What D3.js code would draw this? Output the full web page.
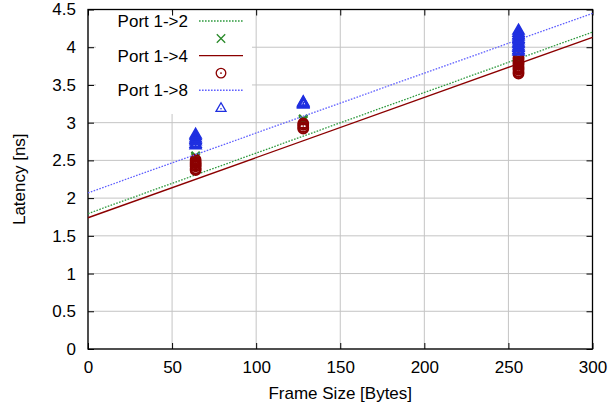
<!DOCTYPE html>
<html><head><meta charset="utf-8">
<script src="https://cdn.jsdelivr.net/npm/d3@7"></script>
<style>html,body{margin:0;padding:0;background:#fff;} text{font-family:"Liberation Sans",Arial,sans-serif;}</style>
</head><body><svg id="c" width="609" height="407"></svg>
<script>
const seriesNames = ["Port 1->2", "Port 1->4", "Port 1->8"];
const frameSizes = [64, 128, 256];
const port12 = [[2.54, 2.56], [3.03, 3.05], [3.82, 3.84]];
const port14 = [[2.37, 2.39, 2.42, 2.44, 2.46, 2.48, 2.51],
                [2.92, 2.94, 2.97, 2.99],
                [3.65, 3.67, 3.70, 3.72, 3.74, 3.77, 3.79, 3.81, 3.84, 3.86]];
const port18 = [[2.71, 2.73, 2.76, 2.78, 2.80, 2.83, 2.85],
                [3.25, 3.26, 3.27, 3.28],
                [3.95, 3.97, 4.00, 4.02, 4.05, 4.07, 4.10, 4.12, 4.15, 4.17, 4.20, 4.23]];
const fitIntercept = [1.795, 1.74, 2.07];
const fitSlope = [0.00802, 0.00797, 0.00793];
const xTicks = [0, 50, 100, 150, 200, 250, 300];
const yTicks = [0, 0.5, 1, 1.5, 2, 2.5, 3, 3.5, 4, 4.5];
const colors = ["#2a8a2a", "#8b0000", "#1f2fe0"];
const lineColors = ["#2f9a3f", "#8b0000", "#6060ff"];

const svg = d3.select("#c");
const L = 88, R = 592.5, T = 9.5, B = 349;
const x = d3.scaleLinear().domain([0, 300]).range([L, R]);
const y = d3.scaleLinear().domain([0, 4.5]).range([B, T]);

// grid
const g = svg.append("g");
g.selectAll(".gx").data(xTicks).enter().append("line")
  .attr("x1", d => x(d)).attr("x2", d => x(d)).attr("y1", T).attr("y2", B)
  .attr("stroke", "#c4c4c4").attr("stroke-width", 1);
g.selectAll(".gy").data(yTicks).enter().append("line")
  .attr("x1", L).attr("x2", R).attr("y1", d => y(d)).attr("y2", d => y(d))
  .attr("stroke", "#c4c4c4").attr("stroke-width", 1);

// legend background
const legX = 96, legY = 12, legW = 156, legH = 102;
svg.append("rect").attr("x", legX).attr("y", legY).attr("width", legW).attr("height", legH).attr("fill", "#fff");

// axes with d3
const xAxis = d3.axisBottom(x).tickValues(xTicks).tickSize(-6).tickPadding(12).tickFormat(d3.format("d"));
const yAxis = d3.axisLeft(y).tickValues(yTicks).tickSize(-6).tickPadding(12).tickFormat(d => d3.format("")(d));
const gx = svg.append("g").attr("transform", `translate(0,${B})`).call(xAxis);
const gy = svg.append("g").attr("transform", `translate(${L},0)`).call(yAxis);
const gx2 = svg.append("g").attr("transform", `translate(0,${T})`).call(d3.axisTop(x).tickValues(xTicks).tickSize(-6).tickFormat(""));
const gy2 = svg.append("g").attr("transform", `translate(${R},0)`).call(d3.axisRight(y).tickValues(yTicks).tickSize(-6).tickFormat(""));
[gx, gy, gx2, gy2].forEach(a => { a.select(".domain").remove(); a.selectAll("line").attr("stroke", "#000"); });
gx.selectAll("text").attr("font-size", 17).attr("fill", "#000").attr("dy", "0.71em");
gy.selectAll("text").attr("font-size", 17).attr("fill", "#000");

svg.append("rect").attr("x", L).attr("y", T).attr("width", R - L).attr("height", B - T)
  .attr("fill", "none").attr("stroke", "#000").attr("stroke-width", 1.3);

// titles
svg.append("text").attr("x", (L + R) / 2).attr("y", 399).attr("text-anchor", "middle")
  .attr("font-size", 17).attr("fill", "#000").text("Frame Size [Bytes]");
svg.append("text").attr("transform", `translate(25,${(T + B) / 2}) rotate(-90)`).attr("text-anchor", "middle")
  .attr("font-size", 17).attr("fill", "#000").text("Latency [ns]");

// markers
function drawMarker(sel, kind, cx, cy, col, sz, sw) {
  if (kind === 0) {
    const s = sz;
    sel.append("path").attr("d", `M${cx - s},${cy - s}L${cx + s},${cy + s}M${cx - s},${cy + s}L${cx + s},${cy - s}`)
      .attr("stroke", col).attr("stroke-width", sw).attr("fill", "none");
  } else if (kind === 1) {
    sel.append("circle").attr("cx", cx).attr("cy", cy).attr("r", sz + 0.6)
      .attr("stroke", col).attr("stroke-width", sw).attr("fill", "none");
    sel.append("circle").attr("cx", cx).attr("cy", cy).attr("r", 0.9).attr("fill", col);
  } else {
    const s = sz + 0.8;
    sel.append("path").attr("d", `M${cx},${cy - s}L${cx + s},${cy + s * 0.75}L${cx - s},${cy + s * 0.75}Z`)
      .attr("stroke", col).attr("stroke-width", sw).attr("fill", "none");
    sel.append("circle").attr("cx", cx).attr("cy", cy + 1).attr("r", 0.8).attr("fill", col);
  }
}

const allData = [port12, port14, port18];
const dashes = ["1.6,1.4", null, "1.6,1.4"];
const plot = svg.append("g");
allData.forEach((series, i) => {
  plot.append("line")
    .attr("x1", x(0)).attr("y1", y(fitIntercept[i]))
    .attr("x2", x(300)).attr("y2", y(fitIntercept[i] + fitSlope[i] * 300))
    .attr("stroke", lineColors[i]).attr("stroke-width", i === 1 ? 1.4 : 1.3)
    .attr("stroke-dasharray", dashes[i]);
  series.forEach((vals, j) => {
    vals.forEach(v => drawMarker(plot, i, x(frameSizes[j]), y(v), colors[i], 4.2, 2.2));
  });
});

// legend
const leg = svg.append("g");
seriesNames.forEach((name, i) => {
  const ly = 21 + i * 34.6;
  leg.append("text").attr("x", 188).attr("y", ly + 6).attr("text-anchor", "end")
    .attr("font-size", 17).attr("fill", "#000").text(name);
  leg.append("line").attr("x1", 199).attr("x2", 243).attr("y1", ly).attr("y2", ly)
    .attr("stroke", lineColors[i]).attr("stroke-width", 1.4).attr("stroke-dasharray", dashes[i]);
  drawMarker(leg, i, 221, ly + 17.5, colors[i], 4.2, 1.3);
});
</script></body></html>
